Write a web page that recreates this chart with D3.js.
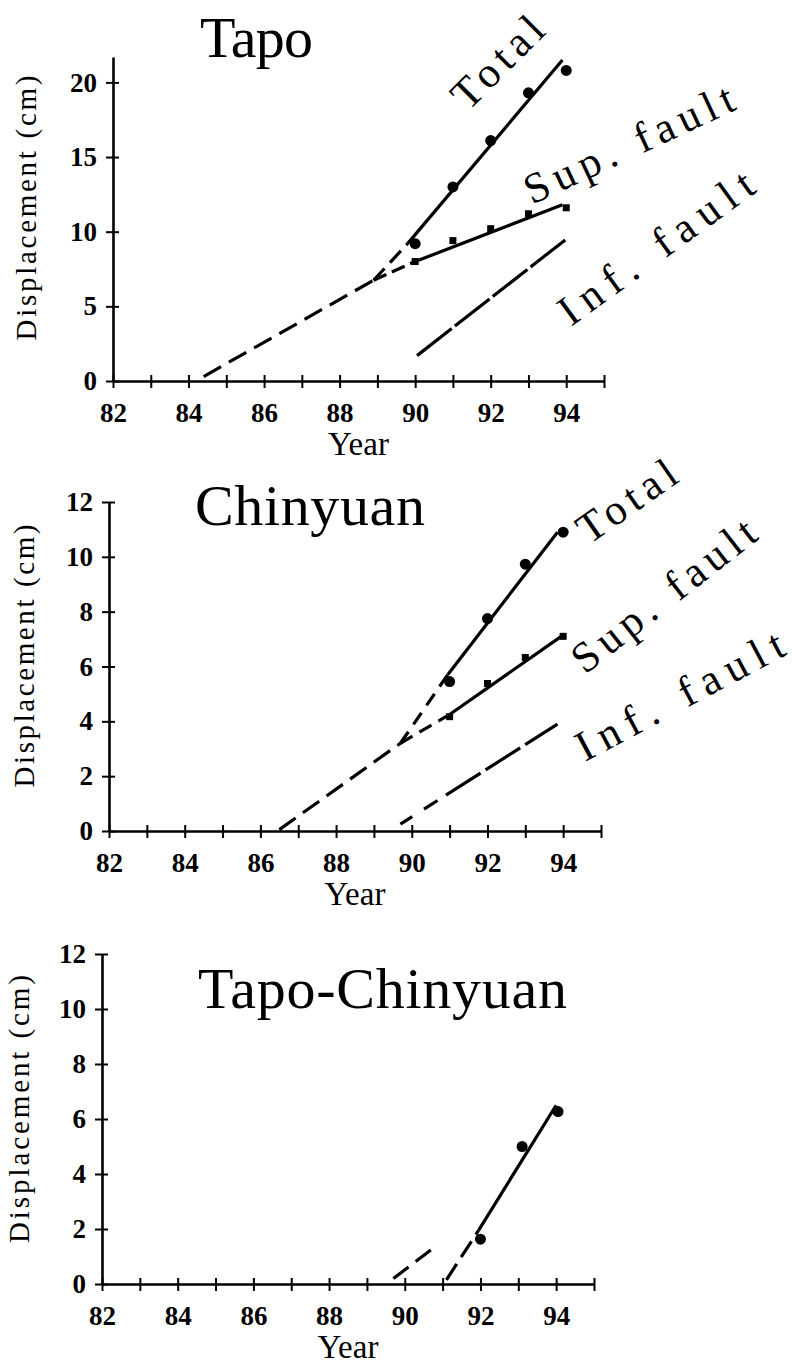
<!DOCTYPE html>
<html>
<head>
<meta charset="utf-8">
<title>Displacement - Tapo / Chinyuan</title>
<script src="https://d3js.org/d3.v7.min.js"></script>
<style>
  body { margin: 0; background: #fff; }
  svg text { font-family: "Liberation Serif", "DejaVu Serif", serif; fill: #000; }
</style>
</head>
<body>
<svg width="794" height="1366"></svg>
<script>
// ticks shared by the panels
const yearTicks = d3.range(82, 96)
const tapoTicks = [0, 5, 10, 15, 20]
const cmTicks = [0, 2, 4, 6, 8, 10, 12]

// Tapo
const tapoPtYears = [90, 91, 92, 93, 94]
const tapoTotal = [9.2, 13.0, 16.1, 19.3, 20.8]
const tapoSup = [8.0, 9.4, 10.2, 11.2, 11.6]
const tapoTrend = [[84.4, 0.3], [88.9, 6.75]]
const tapoTotalExt = [[88.9, 6.75], [89.8, 9.2]]
const tapoTotalFit = [[89.8, 9.2], [93.9, 21.5]]
const tapoSupExt = [[88.9, 6.75], [90, 8.0]]
const tapoSupFit = [[90, 8.0], [93.9, 11.8]]
const tapoInf = [[90.05, 1.7], [94, 9.5]]

// Chinyuan
const chinPtYears = [91, 92, 93, 94]
const chinTotal = [5.45, 7.75, 9.73, 10.9]
const chinSup = [4.17, 5.38, 6.33, 7.1]
const chinTrend = [[86.5, 0.05], [89.7, 3.2]]
const chinTotalExt = [[89.7, 3.2], [90.95, 5.7]]
const chinTotalFit = [[90.95, 5.7], [93.85, 10.9]]
const chinSupExt = [[89.7, 3.2], [91, 4.25]]
const chinSupFit = [[91, 4.25], [93.95, 7.1]]
const chinInf = [[89.7, 0.25], [93.85, 3.9]]

// Tapo-Chinyuan
const diffPtYears = [92, 93.1, 94.05]
const diffVals = [1.63, 5.0, 6.27]
const diffExtA = [[89.7, 0.2], [90.75, 1.3]]
const diffExtB = [[91.1, 0.15], [91.95, 1.95]]
const diffFit = [[91.95, 1.95], [94, 6.5]]

const svg = d3.select("svg")
svg.append("rect").attr("width", 794).attr("height", 1366).attr("fill", "#fff")

function drawPanel(p) {
  const g = svg.append("g")
  const x = d3.scaleLinear().domain([82, 95]).range(p.xr)
  const y = d3.scaleLinear().domain(p.yd).range(p.yr)

  // x axis, ticks cross the line
  const xa = g.append("g")
    .attr("transform", "translate(0," + p.yr[0] + ")")
    .call(d3.axisBottom(x).tickValues(yearTicks).tickSizeOuter(0)
      .tickFormat(d => (d % 2 == 0 && d < 95) ? d : ""))
  xa.attr("font-family", null).attr("font-size", null)
  xa.select(".domain").attr("stroke-width", 2.6)
  xa.selectAll(".tick line").attr("y1", -6).attr("y2", 7).attr("stroke-width", 2)
  xa.selectAll(".tick text").attr("y", 41).attr("dy", null)
    .style("font-size", "27px").style("font-weight", "bold")

  // y axis
  const ya = g.append("g")
    .attr("transform", "translate(" + p.xr[0] + ",0)")
    .call(d3.axisLeft(y).tickValues(p.yticks).tickSizeOuter(0))
  ya.attr("font-family", null).attr("font-size", null)
  ya.select(".domain").attr("stroke-width", 2.6)
  ya.selectAll(".tick line").attr("x1", 6).attr("x2", -7).attr("stroke-width", 2)
  ya.selectAll(".tick text").attr("x", -16)
    .style("font-size", "27px").style("font-weight", "bold")

  g.append("text")
    .attr("x", (p.xr[0] + p.xr[1]) / 2).attr("y", p.yr[0] + 74)
    .attr("text-anchor", "middle").style("font-size", "33px")
    .text("Year")

  g.append("text")
    .attr("transform", "translate(" + p.ylab[0] + "," + p.ylab[1] + ") rotate(-90)")
    .attr("text-anchor", "middle").style("font-size", "29px")
    .attr("textLength", p.ylab[2]).attr("lengthAdjust", "spacing")
    .text("Displacement (cm)")

  g.append("text")
    .attr("x", p.title[1]).attr("y", p.title[2])
    .style("font-size", "58px")
    .attr("textLength", p.title[3]).attr("lengthAdjust", "spacing")
    .text(p.title[0])

  const line = d3.line().x(d => x(d[0])).y(d => y(d[1]))
  p.lines.forEach(l => {
    g.append("path").datum(l[0])
      .attr("d", line)
      .attr("fill", "none").attr("stroke", "#000")
      .attr("stroke-width", 3.2)
      .attr("stroke-dasharray", l[1])
  })

  p.dots.forEach(s => {
    const pts = s[0].map((yr, i) => [yr, s[1][i]])
    if (s[2] == "circle") {
      g.selectAll(null).data(pts).enter().append("circle")
        .attr("cx", d => x(d[0])).attr("cy", d => y(d[1])).attr("r", 5.5)
        .attr("fill", "#000")
    } else {
      g.selectAll(null).data(pts).enter().append("rect")
        .attr("x", d => x(d[0]) - 3.5).attr("y", d => y(d[1]) - 3.5)
        .attr("width", 7).attr("height", 7).attr("fill", "#000")
    }
  })

  p.labels.forEach(l => {
    g.append("text")
      .attr("transform", "translate(" + l[1] + "," + l[2] + ") rotate(" + l[3] + ")")
      .style("font-size", "43px")
      .attr("textLength", l[4]).attr("lengthAdjust", "spacing")
      .text(l[0])
  })
}

const dashed = "20,9"

drawPanel({
  xr: [113, 604], yd: [0, 21.7], yr: [381, 57], yticks: tapoTicks,
  ylab: [36, 208, 265],
  title: ["Tapo", 200, 57, 113],
  lines: [
    [tapoTrend, dashed], [tapoTotalExt, "16,8"], [tapoTotalFit, null],
    [tapoSupExt, "14,6"], [tapoSupFit, null], [tapoInf, "44,4"]
  ],
  dots: [[tapoPtYears, tapoTotal, "circle"], [tapoPtYears, tapoSup, "square"]],
  labels: [
    ["Total", 468, 112, -45, 112],
    ["Sup. fault", 532, 205, -25, 227],
    ["Inf. fault", 571, 327, -36, 231]
  ]
})

drawPanel({
  xr: [109, 601], yd: [0, 12], yr: [831, 502], yticks: cmTicks,
  ylab: [34, 656, 263],
  title: ["Chinyuan", 195, 525, 230],
  lines: [
    [chinTrend, dashed], [chinTotalExt, "14,9"], [chinTotalFit, null],
    [chinSupExt, "14,8"], [chinSupFit, null],
    [chinInf, "14,14,16,10,41,6,41,6,40"]
  ],
  dots: [[chinPtYears, chinTotal, "circle"], [chinPtYears, chinSup, "square"]],
  labels: [
    ["Total", 589, 545, -35, 112],
    ["Sup. fault", 585, 675, -38, 222],
    ["Inf. fault", 585, 762, -28, 230]
  ]
})

drawPanel({
  xr: [102, 594], yd: [0, 12], yr: [1284, 954], yticks: cmTicks,
  ylab: [29, 1109, 268],
  title: ["Tapo-Chinyuan", 198, 1008, 369],
  lines: [
    [diffExtA, "19,9"], [diffExtB, "19,8"], [diffFit, null]
  ],
  dots: [[diffPtYears, diffVals, "circle"]],
  labels: []
})
</script>
</body>
</html>
